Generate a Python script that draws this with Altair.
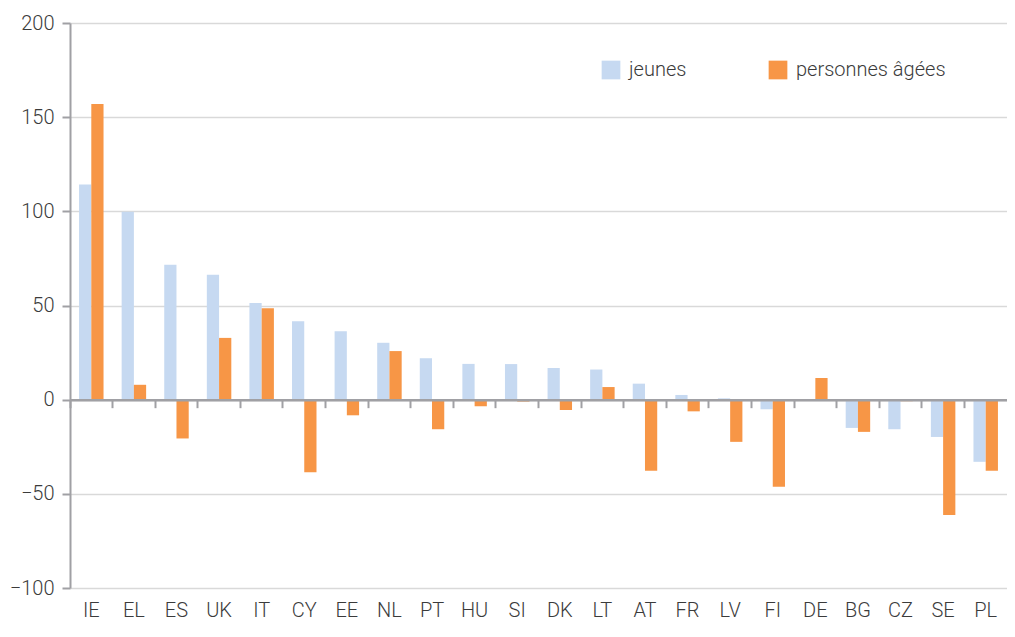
import altair as alt
import pandas as pd

categories = ["IE", "EL", "ES", "UK", "IT", "CY", "EE", "NL", "PT", "HU", "SI",
              "DK", "LT", "AT", "FR", "LV", "FI", "DE", "BG", "CZ", "SE", "PL"]
jeunes = [114.3, 99.8, 71.6, 66.3, 51.3, 41.6, 36.3, 30.2, 22.0, 19.0, 18.9,
          16.8, 16.0, 8.5, 2.5, 0.7, -5.1, 0.0, -15.0, -15.7, -19.8, -33.0]
personnes_agees = [157.0, 7.9, -20.6, 32.8, 48.5, -38.6, -8.3, 25.8, -15.7, -3.5, -1.0,
                   -5.5, 6.7, -37.7, -6.2, -22.4, -46.2, 11.5, -17.1, -0.8, -61.2, -37.7]
series = ["jeunes", "personnes âgées"]
colors = ["#c6d9f1", "#f79646"]
y_ticks = [-100, -50, 0, 50, 100, 150, 200]

rows = []
for c, j, p in zip(categories, jeunes, personnes_agees):
    rows.append({"pays": c, "groupe": series[0], "valeur": j})
    rows.append({"pays": c, "groupe": series[1], "valeur": p})
df = pd.DataFrame(rows)

FONT = "Roboto, Liberation Sans, sans-serif"
TXT = "#3b3b3b"
AX = "#a0a0a4"

W, H = 937, 565
zero_offset = -H * (0 - (-100)) / 300.0  # bottom axis moved up to y=0

x_scale = alt.Scale(domain=categories, paddingInner=0, paddingOuter=0)

bars = alt.Chart(df).mark_bar().encode(
    x=alt.X("pays:N", sort=categories, scale=x_scale, title=None,
            axis=alt.Axis(orient="bottom", labelAngle=0, ticks=False, domain=False,
                          labelPadding=12, labelFontSize=20, labelColor=TXT,
                          labelFont=FONT, labelFontWeight=300)),
    xOffset=alt.XOffset("groupe:N", sort=series,
                        scale=alt.Scale(domain=series, paddingInner=0, paddingOuter=0.74)),
    y=alt.Y("valeur:Q", scale=alt.Scale(domain=[-100, 200], nice=False), title=None,
            axis=alt.Axis(values=y_ticks, grid=True, gridColor="#d9d9d9", gridWidth=1.5,
                          domainColor=AX, domainWidth=2, tickColor=AX, tickWidth=2,
                          tickSize=8, labelPadding=8, labelFontSize=20, labelColor=TXT,
                          labelFont=FONT, labelFontWeight=300)),
    color=alt.Color("groupe:N", sort=series,
                    scale=alt.Scale(domain=series, range=colors),
                    legend=alt.Legend(title=None, orient="none", direction="horizontal",
                                      legendX=531, legendY=37, symbolType="square",
                                      symbolSize=350, symbolStrokeWidth=0,
                                      labelFontSize=20, labelColor=TXT, labelFont=FONT,
                                      labelFontWeight=300, labelLimit=300,
                                      labelOffset=8, columnPadding=81, padding=0)),
)

zero_axis = alt.Chart(df).mark_point(opacity=0).encode(
    x=alt.X("pays:N", sort=categories, scale=x_scale, title=None,
            axis=alt.Axis(orient="bottom", labels=False, bandPosition=0, offset=zero_offset,
                          domainColor=AX, domainWidth=2.5, tickColor=AX, tickWidth=2,
                          tickSize=8, zindex=1)),
    y=alt.Y("valeur:Q", scale=alt.Scale(domain=[-100, 200], nice=False), title=None),
)

chart = alt.layer(bars, zero_axis).resolve_axis(x="independent").properties(
    width=W, height=H,
    autosize=alt.AutoSizeParams(type="none"),
    padding={"left": 62, "top": 15, "right": 0, "bottom": 37},
).configure_view(stroke=None)

chart.save("out.html", embed_options={"renderer": "svg", "actions": False})
